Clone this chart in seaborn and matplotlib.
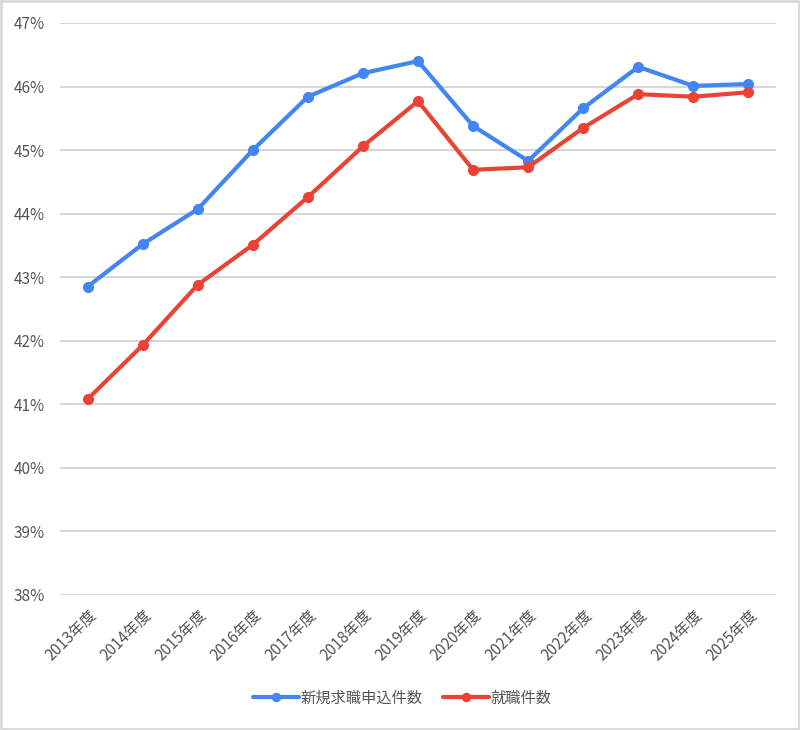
import pandas as pd
import numpy as np
import matplotlib.pyplot as plt
import seaborn as sns
from matplotlib.ticker import FuncFormatter

sns.set_style('white')
plt.rcParams['font.family'] = ['Noto Sans CJK JP', 'DejaVu Sans']

# データ
years = ['2013年度', '2014年度', '2015年度', '2016年度', '2017年度', '2018年度', '2019年度',
         '2020年度', '2021年度', '2022年度', '2023年度', '2024年度', '2025年度']
shinki = [42.85, 43.52, 44.07, 45.00, 45.84, 46.21, 46.40,
          45.38, 44.83, 45.66, 46.31, 46.01, 46.04]
shushoku = [41.08, 41.93, 42.88, 43.51, 44.26, 45.06, 45.77,
            44.69, 44.73, 45.35, 45.88, 45.84, 45.91]
series_names = ['新規求職申込件数', '就職件数']
colors = ['#4285F4', '#EA4335']

df = pd.DataFrame({
    '年度': years * 2,
    '値': shinki + shushoku,
    '系列': [series_names[0]] * len(years) + [series_names[1]] * len(years),
})

fig = plt.figure(figsize=(8, 7.3), dpi=100)
ax = fig.add_axes([0.075, 0.185, 0.895, 0.7835])

sns.lineplot(data=df, x='年度', y='値', hue='系列', palette=colors,
             marker='o', markersize=8, markeredgewidth=0, linewidth=3,
             sort=False, ax=ax)

ax.set_ylim(38, 47)
ax.set_yticks(range(38, 48))
ax.yaxis.set_major_formatter(FuncFormatter(lambda v, p: f'{int(v)}%'))
ax.set_xlim(-0.5, len(years) - 0.5)
ax.grid(axis='y', color='#d0d0d0', linewidth=1.2)
ax.set_axisbelow(True)
for s in ax.spines.values():
    s.set_visible(False)
ax.set_xlabel('')
ax.set_ylabel('')
ax.tick_params(axis='both', length=0, labelsize=11, labelcolor='#555555')
ax.tick_params(axis='y', pad=11)
ax.tick_params(axis='x', pad=8)
plt.setp(ax.get_xticklabels(), rotation=45, ha='right', rotation_mode='anchor')

handles, labels = ax.get_legend_handles_labels()
ax.legend(handles, labels, loc='center', bbox_to_anchor=(0.478, -0.18), ncol=2,
          frameon=False, fontsize=11, labelcolor='#555555', handlelength=3,
          handletextpad=0.1, columnspacing=1.3, markerscale=0.85)

# 外枠
fig.patches.append(plt.Rectangle((0.001, 0.001), 0.998, 0.998, transform=fig.transFigure,
                                 fill=False, edgecolor='#d9d9d9', linewidth=2))

plt.savefig('out.png', dpi=100)
plt.close()
